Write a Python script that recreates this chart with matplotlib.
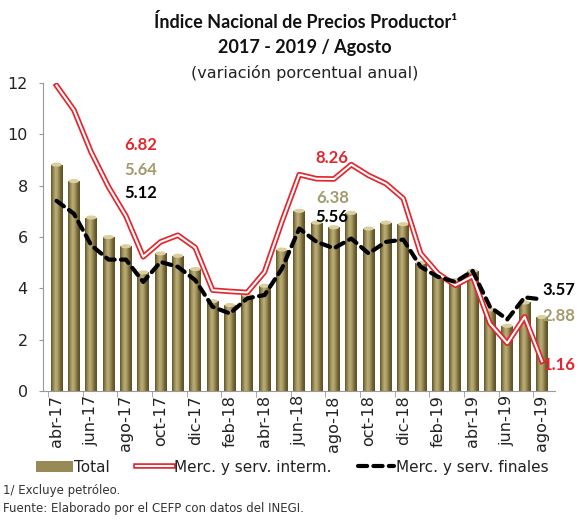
import numpy as np
import matplotlib
matplotlib.use("Agg")
import matplotlib.pyplot as plt
import matplotlib.patheffects as pe
from matplotlib.colors import LinearSegmentedColormap
from matplotlib.lines import Line2D
from matplotlib.patches import Patch, Ellipse

months = ["abr-17", "may-17", "jun-17", "jul-17", "ago-17", "sep-17", "oct-17", "nov-17", "dic-17",
          "ene-18", "feb-18", "mar-18", "abr-18", "may-18", "jun-18", "jul-18", "ago-18", "sep-18",
          "oct-18", "nov-18", "dic-18", "ene-19", "feb-19", "mar-19", "abr-19", "may-19", "jun-19",
          "jul-19", "ago-19"]
total = [8.82, 8.18, 6.76, 6.00, 5.64, 4.62, 5.36, 5.27, 4.75,
         3.50, 3.35, 3.73, 4.10, 5.51, 7.02, 6.56, 6.38, 6.94,
         6.33, 6.56, 6.50, 5.00, 4.51, 4.32, 4.68, 3.18, 2.54,
         3.45, 2.88]
interm = [11.90, 10.95, 9.30, 7.95, 6.82, 5.23, 5.81, 6.07, 5.59,
          3.93, 3.88, 3.84, 4.64, 6.60, 8.43, 8.27, 8.26, 8.82,
          8.40, 8.08, 7.50, 5.36, 4.58, 4.12, 4.47, 2.63, 1.86,
          2.89, 1.16]
finales = [7.41, 6.91, 5.68, 5.12, 5.12, 4.25, 5.03, 4.84, 4.32,
           3.28, 3.02, 3.61, 3.74, 4.77, 6.33, 5.81, 5.56, 5.94,
           5.36, 5.81, 5.90, 4.84, 4.45, 4.25, 4.68, 3.28, 2.79,
           3.65, 3.57]
yticks = [0, 2, 4, 6, 8, 10, 12]

RED = "#e3262d"
OLIVE_TXT = "#a39b6c"

fig = plt.figure(figsize=(5.79, 5.25), dpi=100)
ax = fig.add_axes([0.0743, 0.2552, 0.8842, 0.5867])

x = np.arange(len(months))
bars = ax.bar(x, total, width=0.68, color="none", edgecolor="none", zorder=2)
cmap = LinearSegmentedColormap.from_list("cyl", ["#625626", "#978a54", "#bcaf7c", "#a3955c", "#726537", "#5b4f24"])
grad = np.linspace(0, 1, 64).reshape(1, -1)
for b in bars:
    x0, w, h = b.get_x(), b.get_width(), b.get_height()
    im = ax.imshow(grad, cmap=cmap, extent=[x0, x0 + w, 0, h], aspect="auto", zorder=2,
                   interpolation="bilinear")
    im.set_clip_path(b)
    ax.add_patch(Ellipse((x0 + w / 2, h), w * 0.9, 0.16, facecolor="#d9cf9f", edgecolor="none", zorder=2.5))

red_fx = [pe.Stroke(linewidth=4.0, foreground=RED), pe.Stroke(linewidth=1.5, foreground="white")]
ax.plot(x, interm, color=RED, lw=1.3, zorder=3, path_effects=red_fx)
ax.plot(x, finales, color="black", lw=3.0, linestyle=(0, (2.2, 1.5)), dash_capstyle="round", zorder=4)

ax.set_xlim(-0.78, 28.75)
ax.set_ylim(0, 12)
ax.set_yticks(yticks)
ax.set_yticklabels([str(v) for v in yticks], fontsize=11.5, color="#222222")
ax.set_xticks(x[::2])
ax.set_xticklabels(months[::2], rotation=90, fontsize=11.5, color="#222222")
ax.set_xticks(np.arange(-0.5, 29, 2), minor=True)
ax.tick_params(axis="x", which="major", length=0, pad=3)
ax.tick_params(axis="x", which="minor", length=4, color="#999999")
ax.tick_params(axis="y", length=3, color="#999999", pad=8)
for s in ["top", "right"]:
    ax.spines[s].set_visible(False)
for s in ["left", "bottom"]:
    ax.spines[s].set_color("#999999")
    ax.spines[s].set_linewidth(0.8)

lab = dict(fontsize=12, fontweight="bold", family="Lato", ha="center", va="center", zorder=6)
ax.text(4.85, 9.57, "6.82", color=RED, **lab)
ax.text(4.85, 8.62, "5.64", color=OLIVE_TXT, **lab)
ax.text(4.85, 7.72, "5.12", color="black", **lab)
ax.text(15.9, 9.07, "8.26", color=RED, **lab)
ax.text(15.9, 7.52, "6.38", color=OLIVE_TXT, **lab)
ax.text(15.9, 6.78, "5.56", color="black", **lab)
ax.text(29.0, 3.93, "3.57", color="black", clip_on=False, **lab)
ax.text(29.0, 2.92, "2.88", color=OLIVE_TXT, clip_on=False, **lab)
ax.text(29.0, 1.00, "1.16", color=RED, clip_on=False, **lab)

fig.text(0.527, 0.958, "Índice Nacional de Precios Productor¹", ha="center", va="center",
         fontsize=13, fontweight="bold", family="Lato", color="#111111")
fig.text(0.527, 0.910, "2017 - 2019 / Agosto", ha="center", va="center",
         fontsize=13, fontweight="bold", family="Lato", color="#111111")
fig.text(0.527, 0.861, "(variación porcentual anual)", ha="center", va="center",
         fontsize=11.5, color="#222222")

h_total = Patch(facecolor="#978a54", edgecolor="none")
h_int = Line2D([], [], color=RED, lw=1.3, path_effects=red_fx)
h_fin = Line2D([], [], color="black", lw=3.0, linestyle=(0, (2.2, 1.5)), dash_capstyle="round")
fig.legend([h_total, h_int, h_fin], ["Total", "Merc. y serv. interm.", "Merc. y serv. finales"],
           loc="center", bbox_to_anchor=(0.505, 0.11), ncol=3, frameon=False, fontsize=11,
           handlelength=2.4, handletextpad=0.1, columnspacing=1.7, labelcolor="#222222")

fig.text(0.005, 0.066, "1/ Excluye petróleo.", fontsize=8.5, color="#333333", va="center")
fig.text(0.005, 0.032, "Fuente: Elaborado por el CEFP con datos del INEGI.", fontsize=8.5, color="#333333", va="center")

fig.savefig("out.png", dpi=100)
